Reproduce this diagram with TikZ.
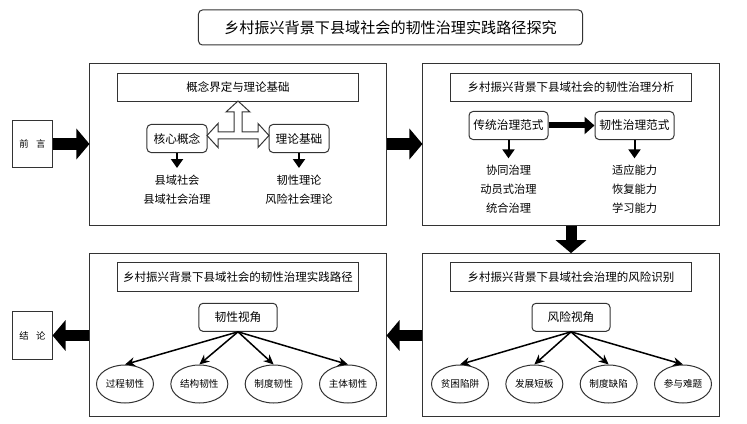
\documentclass[tikz,border=0pt]{standalone}
\usepackage{fontspec}
\setmainfont{Noto Sans CJK SC}
\usetikzlibrary{arrows.meta,shapes.geometric,positioning,calc}
\tikzstyle{stage} = [draw=black!80, line width=0.03cm, minimum width=8.88cm, minimum height=4.88cm, inner sep=0]
\tikzstyle{heading} = [draw=black!80, line width=0.03cm, minimum width=7.2cm, minimum height=0.85cm, inner sep=0, font=\fontsize{9.8}{12}\selectfont]
\tikzstyle{concept} = [draw=black!80, line width=0.03cm, rounded corners=0.12cm, minimum height=0.84cm, inner sep=0, font=\fontsize{10}{12}\selectfont]
\tikzstyle{side} = [draw=black!80, line width=0.03cm, minimum width=1.17cm, minimum height=1.42cm, inner sep=0, font=\fontsize{8}{10}\selectfont]
\tikzstyle{leaf} = [draw=black!80, line width=0.03cm, ellipse, minimum width=1.71cm, minimum height=1.14cm, inner sep=0, font=\fontsize{8.2}{10}\selectfont]
\tikzstyle{items} = [align=center, inner xsep=0, inner ysep=0.2cm, font=\fontsize{9.6}{16}\selectfont]
\tikzstyle{bigarrow} = [line width=0.33cm, -{Triangle[length=0.39cm, width=0.9cm]}]
\tikzstyle{midarrow} = [line width=0.18cm, -{Triangle[length=0.3cm, width=0.51cm]}]
\tikzstyle{downarrow} = [line width=0.06cm, -{Triangle[length=0.27cm, width=0.36cm]}]
\tikzstyle{branch} = [line width=0.045cm, -{Stealth[length=0.3cm, width=0.27cm]}]
\tikzstyle{hollow} = [draw=black!80, line width=0.03cm, fill=white]
\begin{document}
\begin{tikzpicture}[x=0.03cm, y=-0.03cm, node distance=2.23cm]
  \useasboundingbox (0,0) rectangle (747,424);

  % title and the four stages
  \node [concept, minimum width=11.52cm, minimum height=1.05cm, font=\fontsize{12.9}{15}\selectfont] (title) at (390.5,27.5) {乡村振兴背景下县域社会的韧性治理实践路径探究};
  \node [stage] (intro) at (238,144.5) {};
  \node [stage] (analysis) at (571,144.5) {};
  \node [stage] (risk) at (571,335) {};
  \node [stage] (path) at (238,335) {};
  \node [side] (qy) at (32.5,144) {前\hspace{0.8em}言};
  \node [side] (jl) at (32.5,335.5) {结\hspace{0.8em}论};

  \node [heading, below=0.3cm of intro.north] (introhead) {概念界定与理论基础};
  \node [heading, below=0.3cm of analysis.north] (analysishead) {乡村振兴背景下县域社会的韧性治理分析};
  \node [heading, below=0.28cm of risk.north] (riskhead) {乡村振兴背景下县域社会治理的风险识别};
  \node [heading, below=0.28cm of path.north] (pathhead) {乡村振兴背景下县域社会的韧性治理实践路径};

  % stage 1
  \node [concept, minimum width=1.8cm] (core) at (177,138.5) {核心概念};
  \node [concept, minimum width=1.8cm] (theory) at (299,138.5) {理论基础};
  \node [items, below=0.45cm of core] (corelist) {县域社会\\县域社会治理};
  \node [items, below=0.45cm of theory] (theorylist) {韧性理论\\风险社会理论};
  \coordinate (tee) at ($(core.east)!0.5!(theory.west)+(0,-3)$);
  \draw [hollow, shift={(tee)}] (-31,0) -- (-20,-12) -- (-20,-3.5) -- (-4,-3.5) -- (-4,-23.5) -- (-12,-23.5) -- (0,-34.5) -- (12,-23.5) -- (4,-23.5) -- (4,-3.5) -- (20,-3.5) -- (20,-12) -- (31,0) -- (20,12) -- (20,3.5) -- (-20,3.5) -- (-20,12) -- cycle;
  \draw [downarrow] (core.south) -- (corelist.north);
  \draw [downarrow] (theory.south) -- (theorylist.north);

  % stage 2
  \node [concept, minimum width=2.37cm] (old) at (508.5,125.5) {传统治理范式};
  \node [concept, minimum width=2.37cm] (new) at (634.5,125.5) {韧性治理范式};
  \node [items, below=0.55cm of old] (oldlist) {协同治理\\动员式治理\\统合治理};
  \node [items, below=0.55cm of new] (newlist) {适应能力\\恢复能力\\学习能力};
  \draw [midarrow] (old.east) -- (new.west);
  \draw [downarrow] (old.south) -- (oldlist.north);
  \draw [downarrow] (new.south) -- (newlist.north);

  % stage 3
  \node [concept, minimum width=2.34cm, below=0.33cm of riskhead] (riskview) {风险视角};
  \node [leaf] (r1) at (460,384) {贫困陷阱};
  \node [leaf, right of=r1] (r2) {发展短板};
  \node [leaf, right of=r2] (r3) {制度缺陷};
  \node [leaf, right of=r3] (r4) {参与难题};
  \foreach \i in {1,...,4}
    \draw [branch] (riskview.south) -- (r\i.north);

  % stage 4
  \node [concept, minimum width=2.34cm, below=0.33cm of pathhead] (resview) {韧性视角};
  \node [leaf] (p1) at (125,384) {过程韧性};
  \node [leaf, right of=p1] (p2) {结构韧性};
  \node [leaf, right of=p2] (p3) {制度韧性};
  \node [leaf, right of=p3] (p4) {主体韧性};
  \foreach \i in {1,...,4}
    \draw [branch] (resview.south) -- (p\i.north);

  % flow between the stages
  \draw [bigarrow] (qy.east) -- (qy.east -| intro.west);
  \draw [bigarrow] (intro.east |- qy.east) -- (analysis.west |- qy.east);
  \draw [bigarrow] (analysis.south) -- (risk.north);
  \draw [bigarrow] (risk.west |- jl.east) -- (path.east |- jl.east);
  \draw [bigarrow] (path.west |- jl.east) -- (jl.east);
\end{tikzpicture}
\end{document}
